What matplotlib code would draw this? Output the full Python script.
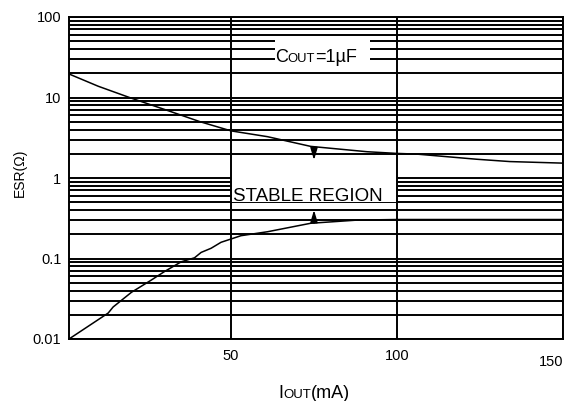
import numpy as np
import matplotlib
matplotlib.use('Agg')
import matplotlib.pyplot as plt
from matplotlib.patches import Rectangle
from matplotlib.ticker import LogLocator, NullFormatter
from matplotlib.transforms import IdentityTransform, ScaledTranslation

plt.rcParams['font.family'] = ['Liberation Sans', 'DejaVu Sans']

# ---------------- data ----------------
upper_x = [1.2, 10, 20, 30, 40.7, 50, 61, 74, 91, 100, 106, 124, 134, 150]
upper_y = [19.6, 13.8, 9.8, 7.1, 5.0, 3.85, 3.26, 2.47, 2.12, 2.02, 1.98, 1.71, 1.60, 1.53]

lower_x = [1.2, 13, 14.5, 20, 26, 30, 35, 39, 41, 44, 47, 53, 61, 74, 88, 100, 125, 150]
lower_y = [0.01, 0.021, 0.025, 0.038, 0.054, 0.069, 0.091, 0.102, 0.119, 0.134, 0.159,
           0.192, 0.215, 0.274, 0.30, 0.305, 0.305, 0.305]

x_ticks = [50, 100, 150]
x_tick_labels = ['50', '100', '150']
y_ticks = [0.01, 0.1, 1, 10, 100]
y_tick_labels = ['0.01', '0.1', '1', '10', '100']

arrow_x = 75
arrow_down_tip = 1.67
arrow_up_tip = 0.40

# ---------------- figure ----------------
W, H = 567, 401
fig = plt.figure(figsize=(W / 100, H / 100), dpi=100)
ax = fig.add_axes([69 / W, 1 - 339 / H, (563 - 69) / W, (339 - 17) / H])
ax.set_yscale('log')
ax.set_ylim(0.01, 100)
ax.set_xlim(1.2, 150)

ax.set_yticks(y_ticks)
ax.set_yticklabels(y_tick_labels)
ax.yaxis.set_minor_locator(LogLocator(base=10, subs=np.arange(2, 10)))
ax.yaxis.set_minor_formatter(NullFormatter())
ax.set_xticks(x_ticks)
ax.set_xticklabels(x_tick_labels)
ax.tick_params(which='both', length=0)
ax.tick_params(axis='y', pad=5.5, labelsize=10.5)
ax.tick_params(axis='x', pad=7, labelsize=10.5)

# shift the "150" label left/down as in the reference
lab150 = ax.get_xticklabels()[2]
lab150.set_transform(lab150.get_transform() + ScaledTranslation(-12 / 100, -6 / 100, fig.dpi_scale_trans))

ax.grid(axis='y', which='both', color='black', lw=1.4)
ax.grid(axis='x', which='major', color='black', lw=1.4)
ax.yaxis.set_zorder(0.5)
ax.xaxis.set_zorder(3)
for s in ax.spines.values():
    s.set_linewidth(1.4)
    s.set_color('black')
    s.set_zorder(3)

# white label boxes
ax.add_patch(Rectangle((50, 0.51), 50, 1.05 - 0.51, facecolor='white', edgecolor='none', zorder=2))
ax.add_patch(Rectangle((63.3, 24), 91.9 - 63.3, 55 - 24, facecolor='white', edgecolor='none', zorder=2))

# curves
ax.plot(upper_x, upper_y, color='black', lw=1.1, zorder=4)
ax.plot(lower_x, lower_y, color='black', lw=1.1, zorder=4)

# arrows
y_up0 = np.exp(np.interp(arrow_x, upper_x, np.log(upper_y)))
y_lo0 = np.exp(np.interp(arrow_x, lower_x, np.log(lower_y)))
ap = dict(arrowstyle='-|>,head_length=0.4,head_width=0.12', mutation_scale=18,
          color='black', lw=1.1, shrinkA=0, shrinkB=0)
ax.annotate('', xy=(arrow_x, arrow_down_tip), xytext=(arrow_x, y_up0), arrowprops=ap, zorder=5)
ax.annotate('', xy=(arrow_x, arrow_up_tip), xytext=(arrow_x, y_lo0), arrowprops=ap, zorder=5)

ax.text(50.5, 0.515, 'STABLE REGION', fontsize=13.5, ha='left', va='baseline', zorder=5)

renderer = fig.canvas.get_renderer()


def runs(x, y, parts):
    for s, size in parts:
        t = fig.text(x, y, s, fontsize=size, ha='left', va='baseline', transform=IdentityTransform())
        bb = t.get_window_extent(renderer)
        x = bb.x1


runs(275, H - 62.3, [('C', 13), ('OUT', 9.4), ('=1\u00b5F', 13)])
runs(278, H - 398, [('I', 13), ('OUT', 9.5), ('(mA)', 13)])

fig.text(20 / W, 1 - 173 / H, 'ESR(\u03a9)', rotation=90, ha='center', va='center', fontsize=10)

fig.savefig('out.png', dpi=100)
